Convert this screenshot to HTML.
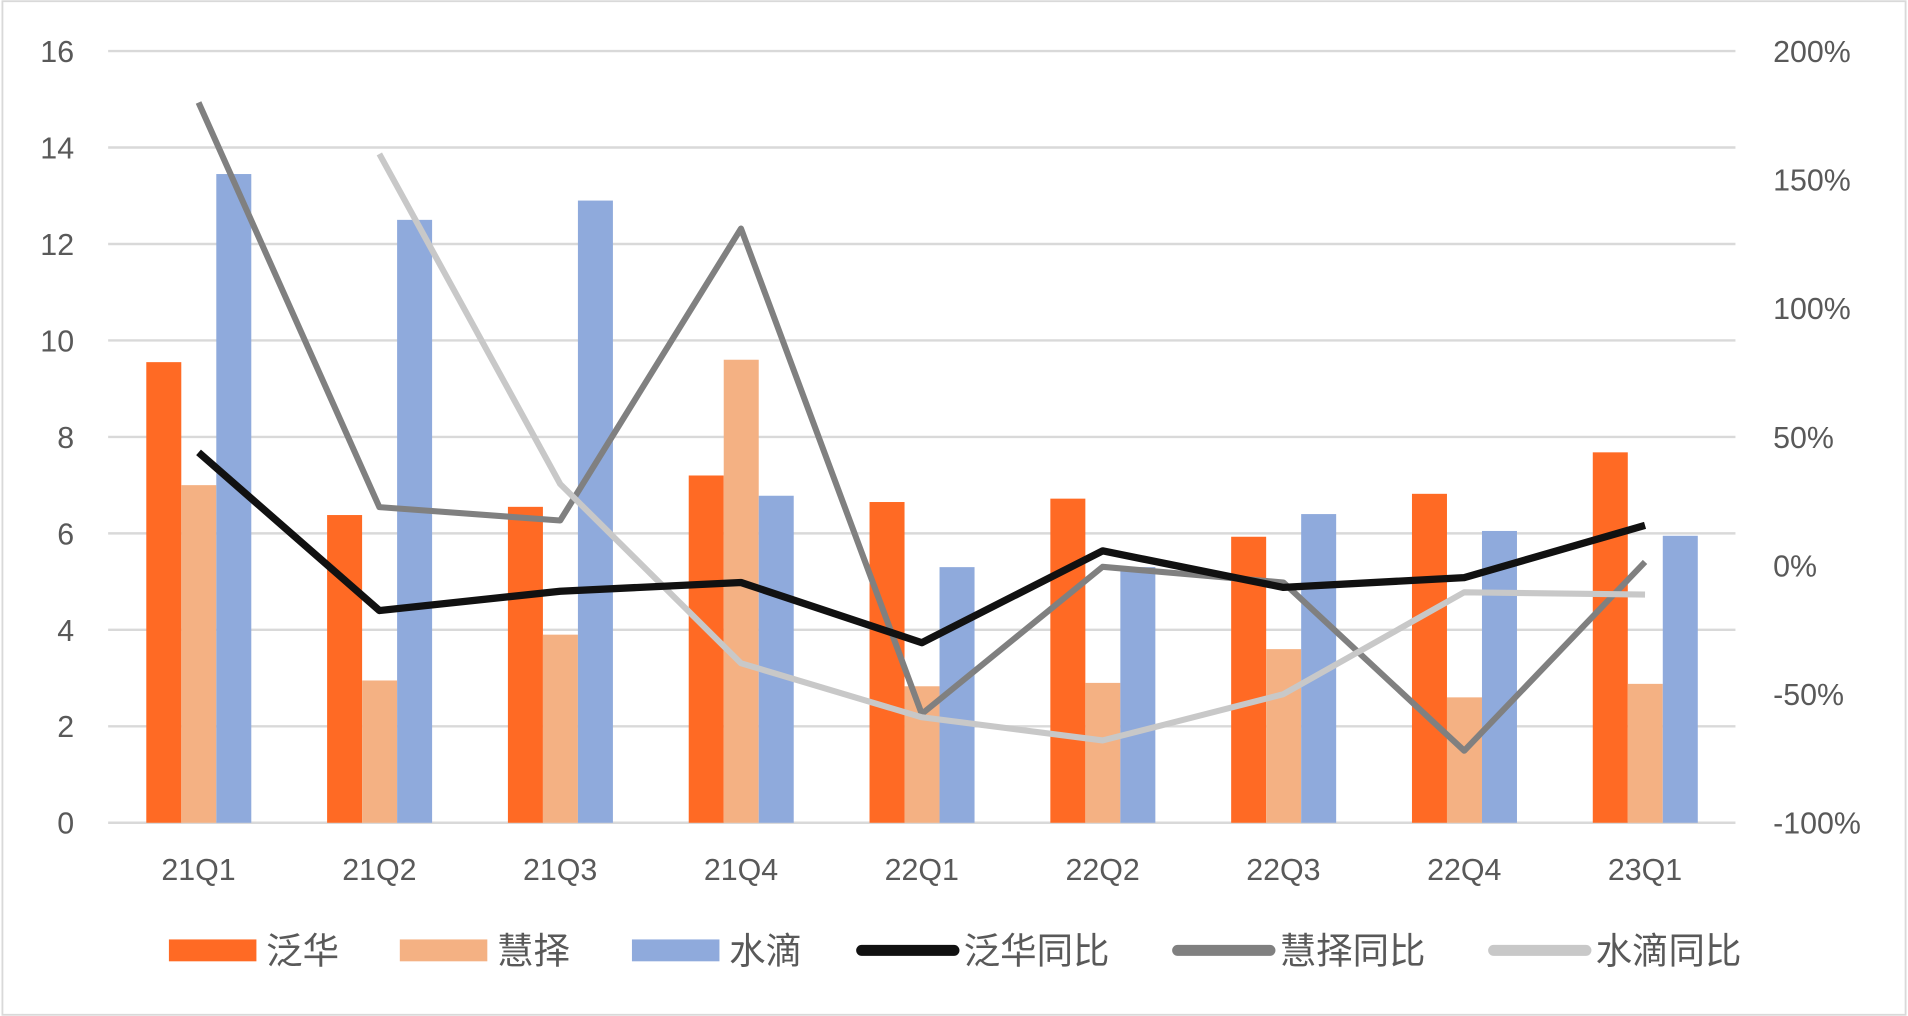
<!DOCTYPE html>
<html><head><meta charset="utf-8"><style>
html,body{margin:0;padding:0;background:#fff}
svg{display:block}
text{font-family:"Liberation Sans","Noto Sans CJK SC",sans-serif;fill:#595959}
</style></head><body>
<svg id="chart" width="1908" height="1016" viewBox="0 0 1568 836" xmlns="http://www.w3.org/2000/svg">
<rect x="1" y="1" width="1566" height="834" fill="#fff" stroke="#d9d9d9" stroke-width="1.5"/>
<g id="grid"></g><g id="bars"></g><g id="lines"></g><g id="axes"></g><g id="legend"></g>
</svg>
<script>
const categories=["21Q1","21Q2","21Q3","21Q4","22Q1","22Q2","22Q3","22Q4","23Q1"];
const fanhua=[9.55,6.38,6.55,7.2,6.65,6.72,5.93,6.82,7.68];
const huize=[7.0,2.95,3.9,9.6,2.83,2.9,3.6,2.6,2.88];
const shuidi=[13.45,12.5,12.9,6.78,5.3,5.3,6.4,6.05,5.95];
const fanhuaYoY=[44,-17.5,-10,-6.6,-30,5.7,-8.5,-4.7,15.6];
const huizeYoY=[180,22.7,17.5,131,-57.7,-0.5,-6.6,-72,1.4];
const shuidiYoY=[null,160,31.7,-38,-59,-68,-50,-10.4,-11.3];
const leftTicks=[0,2,4,6,8,10,12,14,16];
const rightTicks=[-100,-50,0,50,100,150,200];
const NS="http://www.w3.org/2000/svg";
const L=88,R=1427,T=42,B=677;
const yL=v=>B-(v/16)*(B-T);
const yR=p=>B-((p+100)/300)*(B-T);
const step=(R-L)/categories.length;
const xC=i=>L+step*(i+0.5);
function mk(tag,attrs,parent){const e=document.createElementNS(NS,tag);for(const k in attrs)e.setAttribute(k,attrs[k]);document.getElementById(parent).appendChild(e);return e;}
leftTicks.forEach(v=>{
 const g=mk('line',{x1:L,x2:R,y1:yL(v),y2:yL(v),stroke:'#d9d9d9','stroke-width':2},'grid');
 
 
 const t=mk('text',{x:60,y:yL(v)+9,'text-anchor':'end','font-size':25},'axes');t.textContent=v;
 
 
});
rightTicks.forEach(p=>{
 const t=mk('text',{x:1458,y:yR(p)+9,'font-size':25},'axes');t.textContent=p+'%';
 
 
});
categories.forEach((c,i)=>{
 const t=mk('text',{x:xC(i),y:724,'text-anchor':'middle','font-size':25},'axes');t.textContent=c;
 
 
});
const bw=28.8;
[[fanhua,'#ff6a24',-43],[huize,'#f4b183',-14.2],[shuidi,'#8faadc',14.6]].forEach(([arr,col,off],s)=>{
 arr.forEach((v,i)=>{
  const r=mk('rect',{x:xC(i)+off,y:yL(v),width:bw,height:B-yL(v),fill:col},'bars');
  
  
 });
});
[[huizeYoY,'#808080',5],[shuidiYoY,'#c8c8c8',5],[fanhuaYoY,'#111',6]].forEach(([arr,col,w],s)=>{
 let d='';arr.forEach((p,i)=>{if(p===null)return;d+=(d?'L':'M')+xC(i)+','+yR(p);});
 const pth=mk('path',{d:d,fill:'none',stroke:col,'stroke-width':w,'stroke-linejoin':'round'},'lines');
 
 
});
const leg=[['泛华','#ff6a24','rect',138],['慧择','#f4b183','rect',328],['水滴','#8faadc','rect',519],['泛华同比','#111','line',708],['慧择同比','#808080','line',968],['水滴同比','#c8c8c8','line',1228]];
leg.forEach(([n,col,type,x])=>{
 const g=mk('g',{},'legend');
 
 
 let m;
 if(type==='rect'){m=document.createElementNS(NS,'rect');m.setAttribute('x',x);m.setAttribute('y',773);m.setAttribute('width',72);m.setAttribute('height',18);m.setAttribute('fill',col);}
 else{m=document.createElementNS(NS,'line');m.setAttribute('x1',x);m.setAttribute('x2',x+76);m.setAttribute('y1',782);m.setAttribute('y2',782);m.setAttribute('stroke',col);m.setAttribute('stroke-width',9);m.setAttribute('stroke-linecap','round');}
 g.appendChild(m);
 const t=document.createElementNS(NS,'text');t.setAttribute('x',x+(type==='rect'?80:84));t.setAttribute('y',793);t.setAttribute('font-size',30);t.textContent=n;g.appendChild(t);
});
</script>
</body></html>
